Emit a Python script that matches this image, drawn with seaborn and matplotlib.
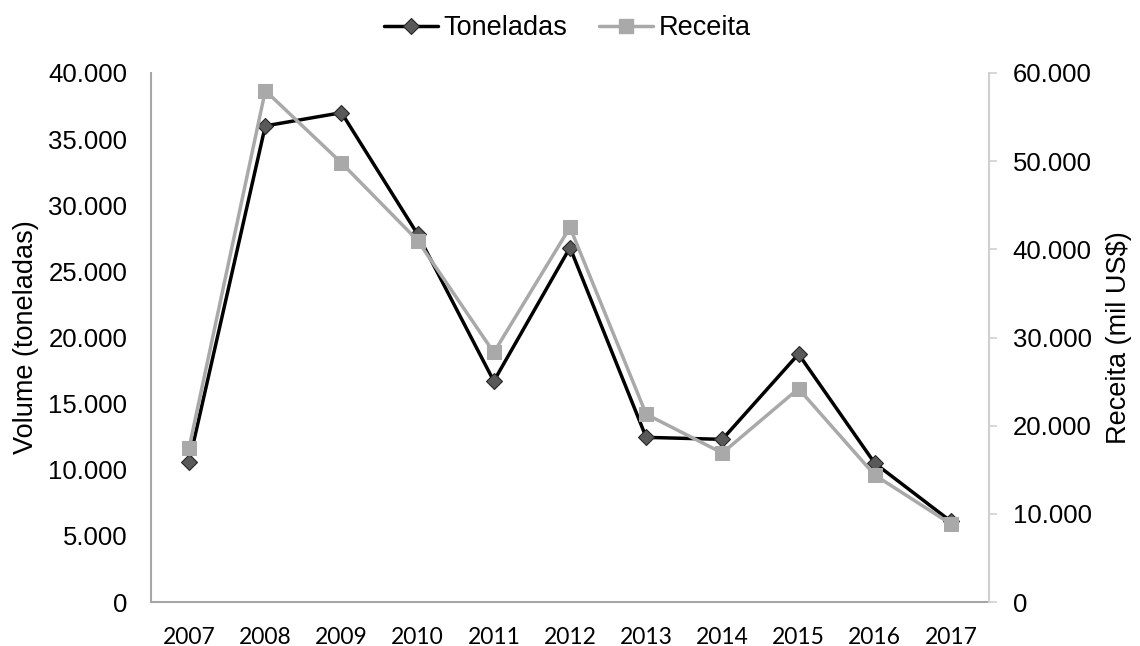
import matplotlib
matplotlib.use("Agg")
import matplotlib.pyplot as plt
import matplotlib.ticker as mticker
from matplotlib.lines import Line2D
import seaborn as sns
import pandas as pd

years = ["2007", "2008", "2009", "2010", "2011", "2012", "2013", "2014", "2015", "2016", "2017"]
toneladas = [10600, 36000, 37000, 27800, 16700, 26800, 12450, 12300, 18750, 10500, 6100]
receita = [17500, 58000, 49800, 41000, 28300, 42500, 21300, 16900, 24200, 14400, 8850]

df = pd.DataFrame({"ano": years, "Toneladas": toneladas, "Receita": receita})

sns.set_style("white")
plt.rcParams["font.family"] = ["Liberation Sans", "DejaVu Sans"]
plt.rcParams["text.color"] = "black"
plt.rcParams["axes.labelcolor"] = "black"
plt.rcParams["xtick.color"] = "black"
plt.rcParams["ytick.color"] = "black"

fig = plt.figure(figsize=(11.4, 6.46), dpi=100)
ax = fig.add_axes([0.1325, 0.0681, 0.735, 0.8189])
ax2 = ax.twinx()

black = "#000000"
grey = "#A9A9A9"

sns.lineplot(data=df, x="ano", y="Toneladas", ax=ax, color=black, linewidth=2.5,
             marker="D", markersize=8, markerfacecolor="#595959", markeredgecolor="#262626",
             markeredgewidth=0.8, sort=False)
sns.lineplot(data=df, x="ano", y="Receita", ax=ax2, color=grey, linewidth=2.5,
             marker="s", markersize=10, markerfacecolor=grey, markeredgecolor=grey,
             sort=False)

ax.set_xlim(-0.5, len(years) - 0.5)
ax.set_ylim(0, 40000)
ax2.set_ylim(0, 60000)
ax.set_yticks(range(0, 40001, 5000))
ax2.set_yticks(range(0, 60001, 10000))

fmt = mticker.FuncFormatter(lambda v, p: f"{int(v):,}".replace(",", "."))
ax.yaxis.set_major_formatter(fmt)
ax2.yaxis.set_major_formatter(fmt)

ax.set_xlabel("")
ax.set_ylabel("Volume (toneladas)", fontsize=19.5)
ax2.set_ylabel("Receita (mil US\\$)", fontsize=19.5)
ax.yaxis.set_label_coords(-0.134, 0.5)
ax2.yaxis.set_label_coords(1.140, 0.5)

ax.tick_params(axis="y", labelsize=18.5, length=0, pad=17)
ax.tick_params(axis="x", length=0, pad=18)
for lbl in ax.get_xticklabels():
    lbl.set_fontfamily(["Lato", "DejaVu Sans"])
    lbl.set_fontsize(16.5)
ax2.tick_params(axis="y", labelsize=18.5, length=6, width=1.2, color="#D0D0D0", pad=11, direction="out")

for a in (ax, ax2):
    a.spines["top"].set_visible(False)
ax.spines["left"].set_color("#A6A6A6")
ax.spines["bottom"].set_color("#A6A6A6")
ax.spines["right"].set_visible(False)
ax2.spines["left"].set_visible(False)
ax2.spines["bottom"].set_visible(False)
ax2.spines["right"].set_color("#D0D0D0")
for s in ("left", "bottom"):
    ax.spines[s].set_linewidth(1.5)
ax2.spines["right"].set_linewidth(1.5)

handles = [
    Line2D([], [], color=black, linewidth=2.5, marker="D", markersize=8,
           markerfacecolor="#595959", markeredgecolor="#262626", markeredgewidth=0.8),
    Line2D([], [], color=grey, linewidth=2.5, marker="s", markersize=10,
           markerfacecolor=grey, markeredgecolor=grey),
]
fig.legend(handles, ["Toneladas", "Receita"], loc="center", bbox_to_anchor=(0.4977, 0.9565),
           ncol=2, frameon=False, fontsize=19.5, handlelength=2.0, handletextpad=0.22,
           columnspacing=1.15, borderpad=0, borderaxespad=0)

fig.savefig("out.png", dpi=100)
